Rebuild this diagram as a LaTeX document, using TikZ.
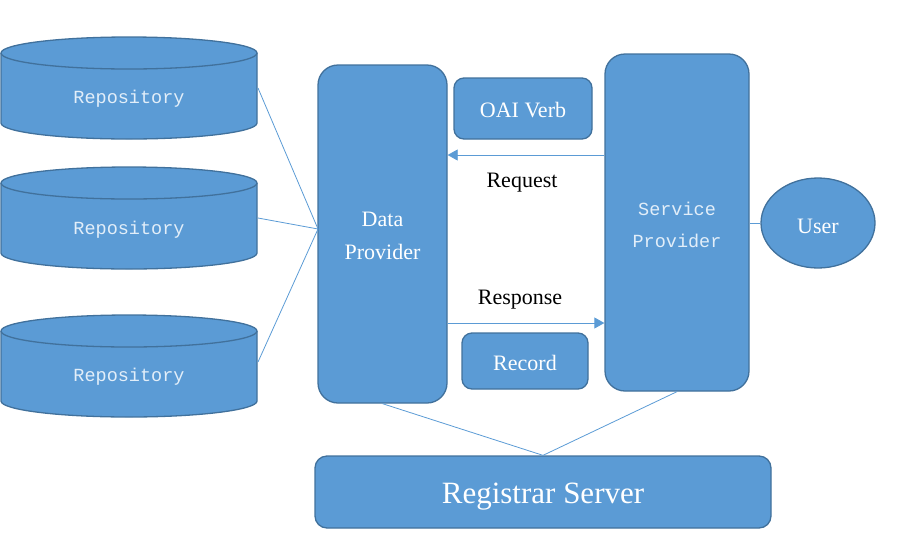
\documentclass[tikz,border=0pt]{standalone}
\usepackage{fontspec}
\setmainfont{Liberation Serif}
\newfontfamily\monofnt{Liberation Mono}
\usetikzlibrary{shapes.geometric,arrows.meta}
\definecolor{boxfill}{HTML}{5B9BD5}
\definecolor{boxline}{HTML}{41719C}
\definecolor{monotext}{HTML}{E2EEF9}
\tikzset{
  box/.style={draw=boxline, fill=boxfill, line width=1.3pt, rounded corners=#1, text=white, align=center},
  box/.default=20pt,
  conn/.style={draw=boxfill, line width=0.8pt},
  arr/.style={conn, -{Triangle[length=10pt,width=11pt]}},
  lbl/.style={text=black, font=\fontsize{22}{24}\selectfont},
  monolbl/.style={font=\monofnt\fontsize{18.5}{20}\selectfont, text=monotext},
}
\begin{document}
\begin{tikzpicture}[x=1pt,y=-1pt]
\useasboundingbox (0,0) rectangle (897,539);
% cylinders
\foreach \t in {53,183,331}{
  \pgfmathsetmacro{\b}{\t+70}
  \fill[boxfill] (1,\t) -- (1,\b) arc[start angle=180,end angle=360,x radius=128pt,y radius=16pt] -- (257,\t) -- cycle;
  \draw[boxline,line width=1.3pt] (1,\t) -- (1,\b) arc[start angle=180,end angle=360,x radius=128pt,y radius=16pt] -- (257,\t);
  \draw[boxline,line width=1.3pt,fill=boxfill] (129,\t) ellipse[x radius=128pt,y radius=16pt];
}
\node[monolbl] (r1) at (129,99) {Repository};
\node[monolbl] (r2) at (129,230) {Repository};
\node[monolbl] (r3) at (129,377) {Repository};
\coordinate (r1e) at (258,88);
\coordinate (r2e) at (258,218);
\coordinate (r3e) at (258,362);

% data provider
\node[box, minimum width=129pt, minimum height=338pt] (dp) at (382.5,234) {};
\node[text=white, align=center, font=\fontsize{22}{33}\selectfont] (dpt) at (dp.center) [yshift=-2pt] {Data\\Provider};
% service provider
\node[box, minimum width=144pt, minimum height=337pt] (sp) at (677,222.5) {};
\node[monolbl, align=center, font=\monofnt\fontsize{18.5}{32}\selectfont] (spt) at (sp.center) [yshift=-2.5pt] {Service\\Provider};
% OAI verb
\node[box=10pt, minimum width=138pt, minimum height=61pt] (oai) at (523,108.5) {};
\node[text=white, font=\fontsize{22}{24}\selectfont] (oait) at (oai.center) [yshift=-2pt] {OAI Verb};
% record
\node[box=10pt, minimum width=126pt, minimum height=56pt] (rec) at (525,361) {};
\node[text=white, font=\fontsize{22}{24}\selectfont] (rect) at (rec.center) [yshift=-2pt] {Record};
% user
\node[draw=boxline, fill=boxfill, line width=1.3pt, ellipse, minimum width=114pt, minimum height=90pt] (user) at (818,223) {};
\node[text=white, font=\fontsize{22}{24}\selectfont] (usert) at (user.center) [yshift=-3pt] {User};
% registrar
\node[box=12pt, minimum width=456pt, minimum height=72pt] (reg) at (543,492) {};
\node[text=white, font=\fontsize{31}{34}\selectfont] (regt) at (reg.center) [yshift=-5pt] {Registrar Server};

% connectors
\coordinate (dpin) at (318,229);
\draw[conn] (r1e) -- (dpin);
\draw[conn] (r2e) -- (dpin);
\draw[conn] (r3e) -- (dpin);
\draw[arr] (sp.west |- 0,155) -- (dp.east |- 0,155);
\draw[arr] (dp.east |- 0,323) -- (sp.west |- 0,323);
\node[lbl] (req) at (522,183) {Request};
\node[lbl] (resp) at (520,300) {Response};
\draw[conn] (sp.east |- user.west) -- (user.west);
\draw[conn] (dp.south) -- (reg.north);
\draw[conn] (sp.south) -- (reg.north);
\end{tikzpicture}
\end{document}
